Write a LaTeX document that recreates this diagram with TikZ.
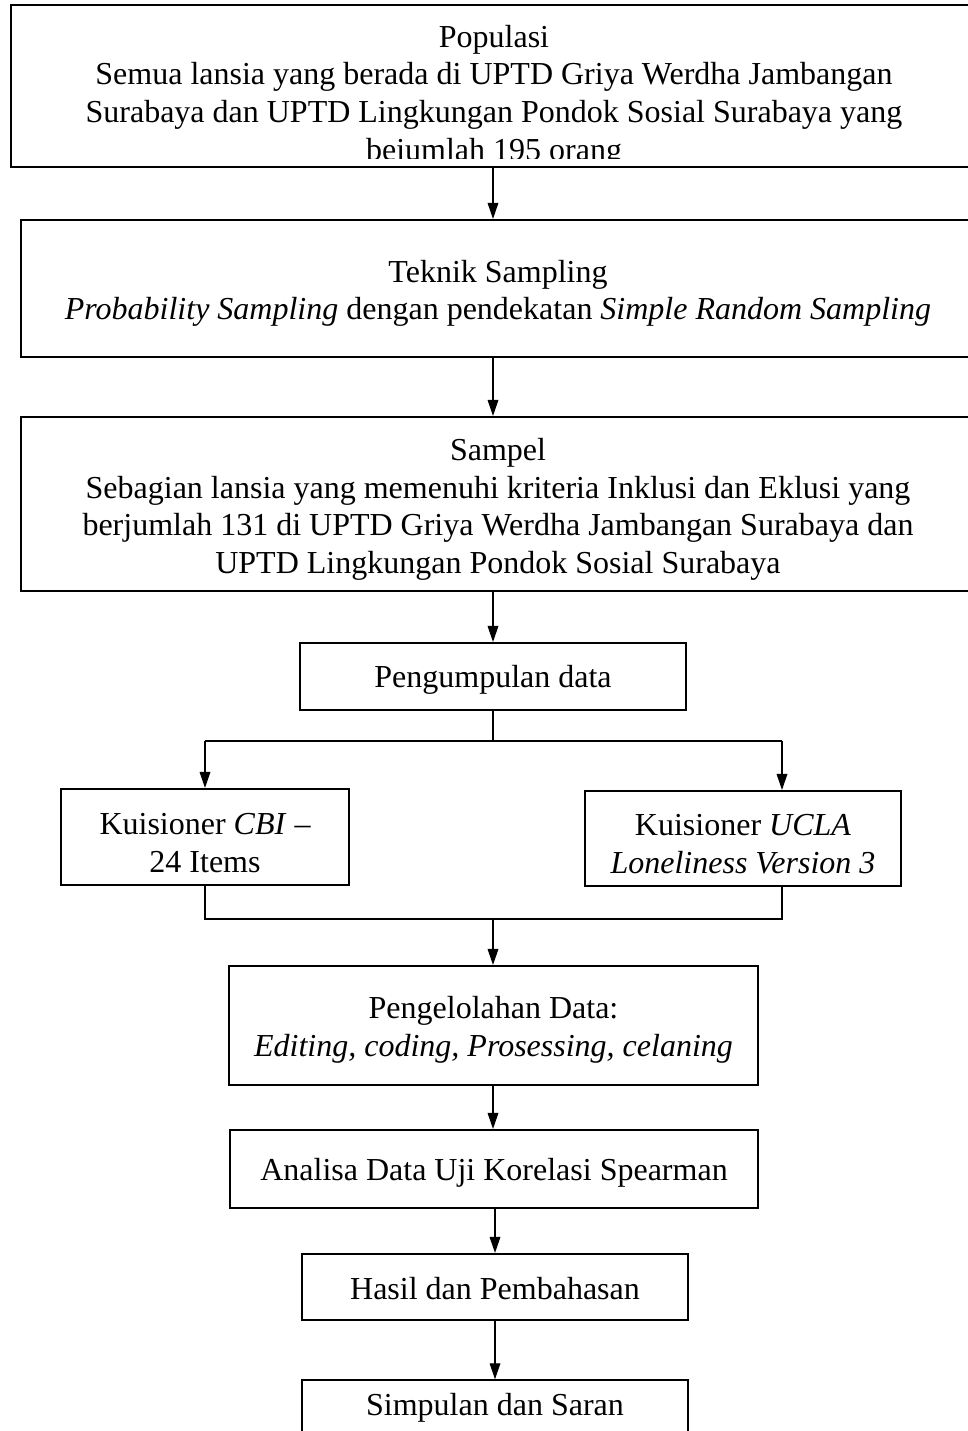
\documentclass[tikz,border=0pt]{standalone}
\usepackage{fontspec}
\setmainfont{Liberation Serif}
\usetikzlibrary{arrows.meta}
\begin{document}
\begin{tikzpicture}[x=0.375pt,y=-0.375pt,
  txt/.style={align=center,inner sep=0pt,font=\fontsize{12}{14.1}\selectfont},
  box/.style={draw,line width=0.8pt,inner sep=0pt},
  link/.style={line width=0.45pt},
  arr/.style={link,-{Triangle[length=6pt,width=4pt]}}]
\useasboundingbox (0,0) rectangle (968,1431);
\clip (0,0) rectangle (968,1431);

% population box, its last line cut off by the frame
\node[box,minimum width=362.25pt,minimum height=60.75pt] (pop) at (494,86) {};
\begin{scope}
  \clip (11,5) rectangle (977,158);
  \node[txt] (poptxt) at (494,96) {Populasi\\
    Semua lansia yang berada di UPTD Griya Werdha Jambangan\\
    Surabaya dan UPTD Lingkungan Pondok Sosial Surabaya yang\\
    bejumlah 195 orang};
\end{scope}

\node[box,minimum width=357.75pt,minimum height=51.4pt] (tek) at (498,288.5) {};
\node[txt] (tektxt) at (498,293.5)
  {Teknik Sampling\\
   \textit{Probability Sampling} dengan pendekatan \textit{Simple Random Sampling}};

\node[box,minimum width=357.75pt,minimum height=65.25pt] (sam) at (498,504) {};
\node[txt] (samtxt) at (498,509.5)
  {Sampel\\
   Sebagian lansia yang memenuhi kriteria Inklusi dan Eklusi yang\\
   berjumlah 131 di UPTD Griya Werdha Jambangan Surabaya dan\\
   UPTD Lingkungan Pondok Sosial Surabaya};

\node[box,minimum width=144.75pt,minimum height=25.1pt] (kum) at (493,676.5) {};
\node[txt] (kumtxt) at (493,679.5) {Pengumpulan data};

\node[box,minimum width=108pt,minimum height=36pt] (cbi) at (205,837) {};
\node[txt] (cbitxt) at (205,843) {Kuisioner \textit{CBI} --\\ 24 Items};

\node[box,minimum width=118.5pt,minimum height=35.6pt] (ucla) at (743,838.5) {};
\node[txt] (uclatxt) at (743,844)
  {Kuisioner \textit{UCLA}\\ \textit{Loneliness Version 3}};

\node[box,minimum width=198.4pt,minimum height=44.6pt] (olah) at (493.5,1025.5) {};
\node[txt] (olahtxt) at (493.5,1029.5)
  {Pengelolahan Data:\\ \textit{Editing, coding, Prosessing, celaning}};

\node[box,minimum width=198pt,minimum height=29.25pt] (ana) at (494,1169) {};
\node[txt] (anatxt) at (494,1173) {Analisa Data Uji Korelasi Spearman};

\node[box,minimum width=144.75pt,minimum height=24.75pt] (has) at (495,1287) {};
\node[txt] (hastxt) at (495,1289) {Hasil dan Pembahasan};

% last box runs past the lower edge
\node[box,minimum width=144.75pt,minimum height=26pt] (sim) at (495,1415) {};
\node[txt] (simtxt) at (495,1408) {Simpulan dan Saran};

% main flow
\draw[arr] (pop.south -| 493,0) -- (tek.north -| 493,0);
\draw[arr] (tek.south -| 493,0) -- (sam.north -| 493,0);
\draw[arr] (sam.south -| 493,0) -- (kum.north -| 493,0);

% split to the two questionnaires
\coordinate (split) at (493,741);
\coordinate (splitL) at (205,741);
\coordinate (splitR) at (782,741);
\draw[link] (kum.south) -- (split);
\draw[link] (splitL) -- (splitR);
\draw[arr] (splitL) -- (splitL |- cbi.north);
\draw[arr] (splitR) -- (splitR |- ucla.north);

% join back into data processing
\coordinate (joinL) at (205,919);
\coordinate (joinR) at (782,919);
\coordinate (join) at (493,919);
\draw[link] (cbi.south -| joinL) -- (joinL) -- (joinR) -- (ucla.south -| joinR);
\draw[arr] (join) -- (join |- olah.north);

\draw[arr] (olah.south -| 493,0) -- (ana.north -| 493,0);
\draw[arr] (ana.south -| 495,0) -- (has.north -| 495,0);
\draw[arr] (has.south -| 495,0) -- (sim.north -| 495,0);
\end{tikzpicture}
\end{document}
